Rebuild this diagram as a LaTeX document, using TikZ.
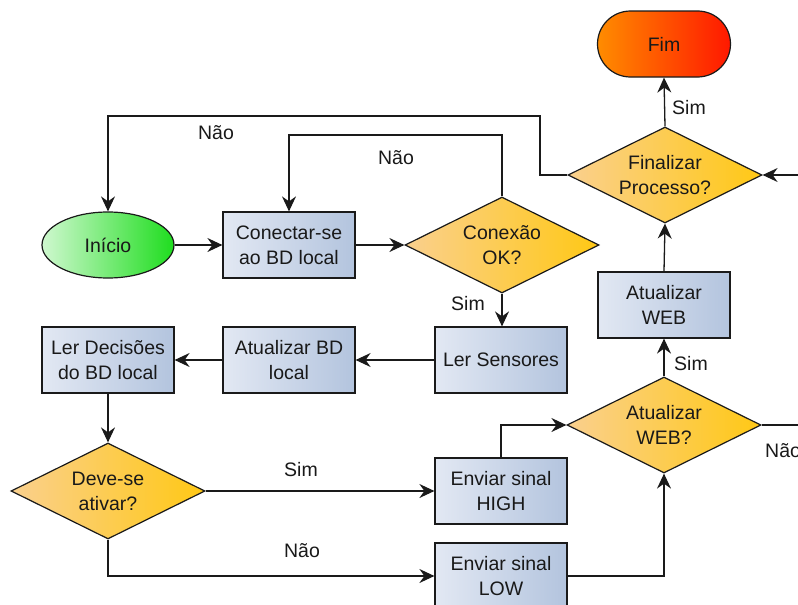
\documentclass[tikz,border=0pt]{standalone}
\usepackage{fontspec}
\setmainfont{Liberation Sans}
\usetikzlibrary{shapes.geometric,arrows.meta}
\definecolor{boxL}{HTML}{E2E8F3}
\definecolor{boxR}{HTML}{B3C4DE}
\definecolor{decL}{HTML}{FAD08E}
\definecolor{decR}{HTML}{FFC815}
\definecolor{endL}{HTML}{FF8C00}
\definecolor{endR}{HTML}{FF1800}
\definecolor{startL}{HTML}{CFF8CF}
\definecolor{startR}{HTML}{1FDD1F}
\definecolor{edge}{HTML}{1A1A1A}
\tikzset{
  txt/.style={font=\fontsize{19.5}{25}\selectfont, align=center, text=black!90},
  stepbox/.style={txt, rectangle, draw=edge, line width=1.2pt, minimum width=132pt, minimum height=66pt,
    inner sep=0pt, left color=boxL, right color=boxR},
  decision/.style={txt, diamond, draw=edge, line width=1.2pt, minimum width=194pt, minimum height=96pt,
    inner sep=0pt, aspect=2, left color=decL, right color=decR},
  terminal/.style={txt, rectangle, rounded corners=33pt, draw=edge, line width=1.2pt, minimum width=133pt,
    minimum height=66pt, inner sep=0pt, left color=endL, right color=endR},
  startnode/.style={txt, ellipse, draw=edge, line width=1.2pt, minimum width=132pt, minimum height=66pt,
    inner sep=0pt, left color=startL, right color=startR},
  flow/.style={draw=edge, line width=1.3pt},
  arr/.style={flow, -{Stealth[length=15pt,width=14pt,inset=5pt]}},
  lbl/.style={txt}
}
\begin{document}
\begin{tikzpicture}[x=1pt,y=-1pt]
  \clip (0,0) rectangle (798,605);
  \fill[white] (0,0) rectangle (798,605);

  % nodes
  \node[terminal]  (fim)     at (664,44)  {Fim};
  \node[decision]  (final)   at (665,175) {Finalizar\\Processo?};
  \node[startnode] (inicio)  at (108,245) {Início};
  \node[stepbox]   (conect)  at (289,245) {Conectar-se\\ao BD local};
  \node[decision]  (conok)   at (502,245) {Conexão\\OK?};
  \node[stepbox]   (atweb)   at (664,305) {Atualizar\\WEB};
  \node[stepbox]   (lerdec)  at (108,360) {Ler Decisões\\do BD local};
  \node[stepbox]   (atbd)    at (289,360) {Atualizar BD\\local};
  \node[stepbox]   (lersens) at (501,360) {Ler Sensores};
  \node[decision]  (webq)    at (664,425) {Atualizar\\WEB?};
  \node[decision]  (ativar)  at (108,491) {Deve-se\\ativar?};
  \node[stepbox]   (high)    at (501,491) {Enviar sinal\\HIGH};
  \node[stepbox]   (low)     at (501,576) {Enviar sinal\\LOW};

  \coordinate (rin)  at (802,175);
  \coordinate (rout) at (802,425);

  % connectors
  \draw[arr] (final.north) -- (fim.south);
  \draw[arr] (rin) -- (final.east);
  \draw[arr] (final.west) -- (540,175) -- (540,116) -| (inicio.north);
  \draw[arr] (inicio.east) -- (conect.west);
  \draw[arr] (conect.east) -- (conok.west);
  \draw[arr] (conok.north) -- (502,135) -| (conect.north);
  \draw[arr] (conok.south) -- (lersens.north -| conok.south);
  \draw[arr] (lersens.west) -- (atbd.east);
  \draw[arr] (atbd.west) -- (lerdec.east);
  \draw[arr] (lerdec.south) -- (ativar.north);
  \draw[arr] (ativar.east) -- (high.west);
  \draw[arr] (ativar.south) |- (low.west);
  \draw[arr] (high.north) |- (webq.west);
  \draw[arr] (low.east) -| (webq.south);
  \draw[arr] (webq.north) -- (atweb.south);
  \draw[arr] (atweb.north) -- (final.south);
  \draw[flow] (webq.east) -- (rout);

  % labels
  \node[lbl] at (689,108) {Sim};
  \node[lbl] at (216,133) {Não};
  \node[lbl] at (396,158) {Não};
  \node[lbl] at (468,304) {Sim};
  \node[lbl] at (301,470) {Sim};
  \node[lbl] at (302,551) {Não};
  \node[lbl] at (691,364) {Sim};
  \node[lbl, anchor=west, inner sep=0pt] at (765,451) {Não};
\end{tikzpicture}
\end{document}
